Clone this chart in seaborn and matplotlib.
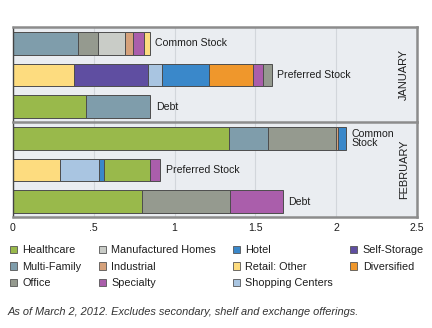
import matplotlib
matplotlib.use("Agg")
import matplotlib.pyplot as plt
from matplotlib.patches import Patch
import seaborn as sns

# Offering volume by property sector, in $ billions
months = ["JANUARY", "FEBRUARY"]
offerings = ["Common Stock", "Preferred Stock", "Debt"]
jan_bar_labels = ["Common Stock", "Preferred Stock", "Debt"]
feb_bar_labels = ["Common\nStock", "Preferred Stock", "Debt"]

jan_common_sectors = ["Multi-Family", "Office", "Manufactured Homes", "Industrial", "Specialty", "Retail: Other"]
jan_common_values = [0.40, 0.125, 0.165, 0.055, 0.065, 0.035]
jan_preferred_sectors = ["Retail: Other", "Self-Storage", "Shopping Centers", "Hotel", "Diversified", "Specialty", "Office"]
jan_preferred_values = [0.375, 0.46, 0.09, 0.29, 0.27, 0.06, 0.055]
jan_debt_sectors = ["Healthcare", "Multi-Family"]
jan_debt_values = [0.45, 0.40]

feb_common_sectors = ["Healthcare", "Multi-Family", "Office", "Industrial", "Hotel"]
feb_common_values = [1.335, 0.24, 0.425, 0.012, 0.05]
feb_preferred_sectors = ["Retail: Other", "Shopping Centers", "Hotel", "Healthcare", "Specialty"]
feb_preferred_values = [0.29, 0.245, 0.03, 0.285, 0.06]
feb_debt_sectors = ["Healthcare", "Office", "Specialty"]
feb_debt_values = [0.80, 0.545, 0.325]

legend_sectors = ["Healthcare", "Multi-Family", "Office",
                  "Manufactured Homes", "Industrial", "Specialty",
                  "Hotel", "Retail: Other", "Shopping Centers",
                  "Self-Storage", "Diversified"]
sector_colors = {
    "Healthcare": "#99b94b",
    "Multi-Family": "#7f9dab",
    "Office": "#959a8f",
    "Manufactured Homes": "#c9ccc7",
    "Industrial": "#d5a17b",
    "Specialty": "#aa5eab",
    "Hotel": "#3a88ca",
    "Retail: Other": "#fddc7f",
    "Shopping Centers": "#a9c5e1",
    "Self-Storage": "#5f4ea1",
    "Diversified": "#ef972c",
}

tick_values = [0, 0.5, 1, 1.5, 2, 2.5]
tick_labels = ["0", ".5", "1", "1.5", "2", "2.5"]
footnote = "As of March 2, 2012. Excludes secondary, shelf and exchange offerings."

sns.set_style("darkgrid", {"axes.facecolor": "#eaedf1", "grid.color": "#d2d6db"})
plt.rcParams["font.family"] = ["Liberation Sans", "DejaVu Sans"]
TEXT = "#1e1e1e"
FRAME = "#8c8c8c"

month_data = [
    [(jan_common_sectors, jan_common_values),
     (jan_preferred_sectors, jan_preferred_values),
     (jan_debt_sectors, jan_debt_values)],
    [(feb_common_sectors, feb_common_values),
     (feb_preferred_sectors, feb_preferred_values),
     (feb_debt_sectors, feb_debt_values)],
]
month_labels = [jan_bar_labels, feb_bar_labels]

W, H = 432, 328
fig = plt.figure(figsize=(W / 100, H / 100), dpi=100)
ax_left, ax_right = 13, 417
panels = [(27, 122), (122, 217)]

for m, (top, bottom) in enumerate(panels):
    ax = fig.add_axes([ax_left / W, 1 - bottom / H, (ax_right - ax_left) / W, (bottom - top) / H])
    for i, (sectors, values) in enumerate(month_data[m]):
        start = 0.0
        for sector, value in zip(sectors, values):
            sns.barplot(x=[value], y=[offerings[i]], order=offerings, orient="h",
                        color=sector_colors[sector], saturation=1, width=0.72,
                        left=start, edgecolor="#4d4d4d", linewidth=0.7,
                        errorbar=None, ax=ax)
            start += value
        ax.annotate(month_labels[m][i], xy=(start, i), xytext=(4, 0),
                    textcoords="offset points", va="center", ha="left",
                    fontsize=7.6, color=TEXT, linespacing=0.95)
    ax.set_xlim(0, 2.5)
    ax.set_ylim(2.49, -0.52)
    ax.set_yticks([])
    ax.set_ylabel("")
    ax.set_xlabel("")
    ax.set_xticks(tick_values)
    ax.grid(axis="y", visible=False)
    ax.grid(axis="x", color="#d2d6db", linewidth=0.8)
    ax.tick_params(axis="x", length=0, pad=4.5, labelsize=7.6, labelcolor=TEXT)
    if m == 0:
        ax.set_xticklabels([])
    else:
        ax.set_xticklabels(tick_labels)
    ax.text(0.968, 0.5, months[m], transform=ax.transAxes, rotation=90,
            ha="center", va="center", fontsize=7.9, color=TEXT)
    for side in ["top", "right", "bottom"]:
        ax.spines[side].set_visible(True)
        ax.spines[side].set_color(FRAME)
        ax.spines[side].set_linewidth(1.8)
    ax.spines["left"].set_visible(True)
    ax.spines["left"].set_color("#444444")
    ax.spines["left"].set_linewidth(1.0)
    if m == 0:
        # the divider between the two months is drawn by the lower panel
        ax.spines["bottom"].set_visible(False)

handles = [Patch(facecolor=sector_colors[s], edgecolor="#555555", linewidth=0.6, label=s)
           for s in legend_sectors]
fig.legend(handles=handles, ncol=4, loc="upper left",
           bbox_to_anchor=(10 / W, 1 - 245 / H), frameon=False,
           fontsize=7.8, handlelength=0.65, handleheight=0.65,
           handletextpad=0.5, columnspacing=1.58, labelspacing=0.62,
           borderpad=0, borderaxespad=0, labelcolor=TEXT)

fig.text(8 / W, 1 - 312 / H, footnote, style="italic", fontsize=7.9,
         color="#333333", ha="left", va="center")

fig.savefig("out.png", dpi=100, facecolor="white")
